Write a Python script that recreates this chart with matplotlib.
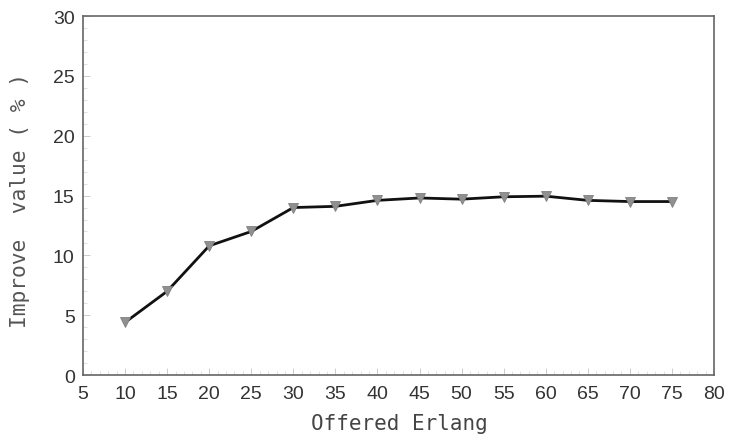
import numpy as np
import matplotlib
matplotlib.use("Agg")
import matplotlib.pyplot as plt
from matplotlib.ticker import MultipleLocator

# Offered traffic (Erlang) against improvement percentage
offered_erlang = [10, 15, 20, 25, 30, 35, 40, 45, 50, 55, 60, 65, 70, 75]
improve_value = [4.4, 7.0, 10.8, 12.0, 14.0, 14.1, 14.6, 14.8, 14.7, 14.9, 14.95, 14.6, 14.5, 14.5]

x_ticks = list(range(5, 85, 5))
y_ticks = list(range(0, 35, 5))

fig = plt.figure(figsize=(7.32, 4.35), dpi=100)
ax = fig.add_axes([0.1134, 0.1356, 0.862, 0.825])

ax.plot(offered_erlang, improve_value, color="#111111", linewidth=2.0,
        marker="v", markersize=7, markerfacecolor="#909090",
        markeredgecolor="#808080", markeredgewidth=0.6, zorder=3)

ax.set_xlim(5, 80)
ax.set_ylim(0, 30)
ax.set_xticks(x_ticks)
ax.set_yticks(y_ticks)
ax.xaxis.set_minor_locator(MultipleLocator(1))
ax.yaxis.set_minor_locator(MultipleLocator(1))

for spine in ax.spines.values():
    spine.set_color("#666666")
    spine.set_linewidth(1.2)

ax.tick_params(which="major", direction="in", length=5, width=0.6,
               color="#c4c4c4", labelsize=14, labelcolor="#333333")
ax.tick_params(axis="x", which="major", pad=7)
ax.tick_params(axis="y", which="major", pad=6)
ax.tick_params(which="minor", direction="in", length=3, width=0.5,
               color="#d4d4d4")
for lab in ax.get_xticklabels() + ax.get_yticklabels():
    lab.set_family("Liberation Sans")

fig.text(0.545, 0.025, "Offered Erlang", ha="center", va="center",
         family="DejaVu Sans Mono", fontsize=15, color="#444444")
fig.text(0.027, 0.538, "Improve  value ( % )", ha="center", va="center",
         rotation=90, family="DejaVu Sans Mono", fontsize=15.3, color="#555555")

fig.savefig("out.png", dpi=100, facecolor="white")
